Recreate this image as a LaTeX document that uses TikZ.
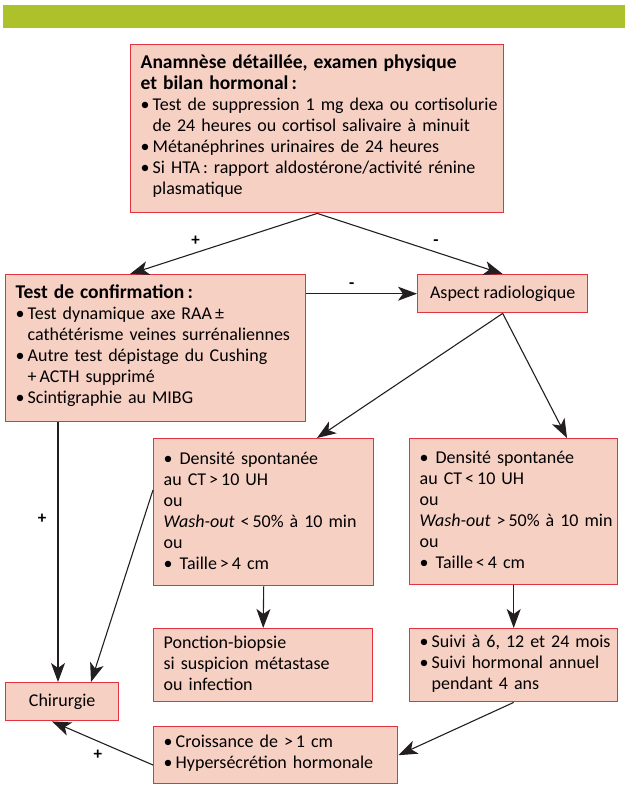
\documentclass[tikz,border=0pt]{standalone}
\usepackage{fontspec}
\setmainfont{Carlito}
\usetikzlibrary{arrows.meta}

\definecolor{boxfill}{RGB}{247,208,196}
\definecolor{boxline}{RGB}{226,52,64}
\definecolor{barvert}{RGB}{173,194,42}
\definecolor{trait}{RGB}{35,31,32}

% une ligne = un paragraphe, sans coupure
\newcommand{\ligne}[1]{\par\noindent\mbox{#1}}
\newcommand{\puce}[1]{\par\noindent\makebox[12bp][l]{\textbullet}\mbox{#1}}
\newcommand{\suite}[1]{\par\noindent\hspace*{12bp}\mbox{#1}}
\newcommand{\titre}[1]{\par\noindent\mbox{\fontsize{19.5bp}{21bp}\selectfont\bfseries #1}}
\newcommand{\debutpave}{\vskip-12bp\relax}

\begin{document}
\begin{tikzpicture}[x=1bp,y=-1bp,->,>={Stealth[length=19bp,width=14bp,inset=5bp]},
  line width=1.1bp,draw=trait,font=\fontsize{18bp}{21bp}\selectfont]
  \tikzstyle{box}=[draw=boxline,fill=boxfill,line width=1.4bp,anchor=north west,
    inner xsep=10bp,align=left]
  \tikzstyle{pave}=[box,execute at begin node=\debutpave]
  \tikzstyle{lbl}=[font=\fontsize{17bp}{21bp}\selectfont\bfseries,inner sep=0pt]

  \useasboundingbox (0,0) rectangle (625,794);
  \fill[barvert] (3,5) rectangle (625,28);

  \node[pave,text width=353bp,minimum height=168bp] (bilan) at (130,44)
    {\titre{Anamnèse détaillée, examen physique}
     \titre{et bilan hormonal\,:}
     \puce{Test de suppression 1 mg dexa ou cortisolurie}
     \suite{de 24 heures ou cortisol salivaire à minuit}
     \puce{Métanéphrines urinaires de 24 heures}
     \puce{Si HTA\,: rapport aldostérone/activité rénine}
     \suite{plasmatique}};
  \node[pave,text width=280bp,minimum height=147bp] (confirm) at (5,274)
    {\titre{Test de confirmation\,:}
     \puce{Test dynamique axe RAA\,±}
     \suite{cathétérisme veines surrénaliennes}
     \puce{Autre test dépistage du Cushing}
     \suite{+\,ACTH supprimé}
     \puce{Scintigraphie au MIBG}};
  \node[box,align=center,minimum width=170bp,minimum height=38bp] (aspect) at (417,274)
    {Aspect radiologique};
  \node[pave,text width=200bp,minimum height=147bp] (dens1) at (153,438)
    {\ligne{\textbullet\hspace{7bp}Densité spontanée}
     \ligne{au CT\,>\,10 UH}
     \ligne{ou}
     \ligne{\textit{Wash-out} <\,50\% à 10 min}
     \ligne{ou}
     \ligne{\textbullet\hspace{7bp}Taille\,>\,4 cm}};
  \node[pave,text width=188bp,minimum height=146bp] (dens2) at (409,438)
    {\ligne{\textbullet\hspace{7bp}Densité spontanée}
     \ligne{au CT\,<\,10 UH}
     \ligne{ou}
     \ligne{\textit{Wash-out} >\,50\% à 10 min}
     \ligne{ou}
     \ligne{\textbullet\hspace{7bp}Taille\,<\,4 cm}};
  \node[pave,text width=199bp,minimum height=73bp] (ponction) at (153,628)
    {\ligne{Ponction-biopsie}
     \ligne{si suspicion métastase}
     \ligne{ou infection}};
  \node[pave,text width=188bp,minimum height=73bp] (suivi) at (409,628)
    {\puce{Suivi à 6, 12 et 24 mois}
     \puce{Suivi hormonal annuel}
     \suite{pendant 4 ans}};
  \node[box,align=center,minimum width=113bp,minimum height=38bp] (chir) at (5,682)
    {Chirurgie};
  \node[pave,text width=224bp,minimum height=57bp] (croiss) at (153,726)
    {\puce{Croissance de >\,1 cm}
     \puce{Hypersécrétion hormonale}};

  \path (bilan.south) edge node[lbl,pos=0.65,yshift=12bp] {+} ([xshift=125bp]confirm.north west)
                      edge node[lbl,pos=0.64,yshift=10bp] {-} (aspect.north)
        (aspect.west -| confirm.east) edge node[lbl,pos=0.41,yshift=8bp] {-} (aspect.west)
        (aspect.south) edge ([xshift=164bp]dens1.north west)
                       edge ([xshift=158bp]dens2.north west)
        ([xshift=53bp]confirm.south west) edge node[lbl,pos=0.37,xshift=-16bp] {+} ([xshift=53bp]chir.north west)
        ([yshift=-52bp]dens1.north west) edge ([xshift=86bp]chir.north west)
        (dens1.south) edge (ponction.north)
        (dens2.south) edge (suivi.north)
        (suivi.south) edge (croiss.east)
        ([yshift=-39bp]croiss.north west) edge node[lbl,pos=0.545,yshift=-14bp] {+} ([xshift=47bp]chir.south west);
\end{tikzpicture}
\end{document}
